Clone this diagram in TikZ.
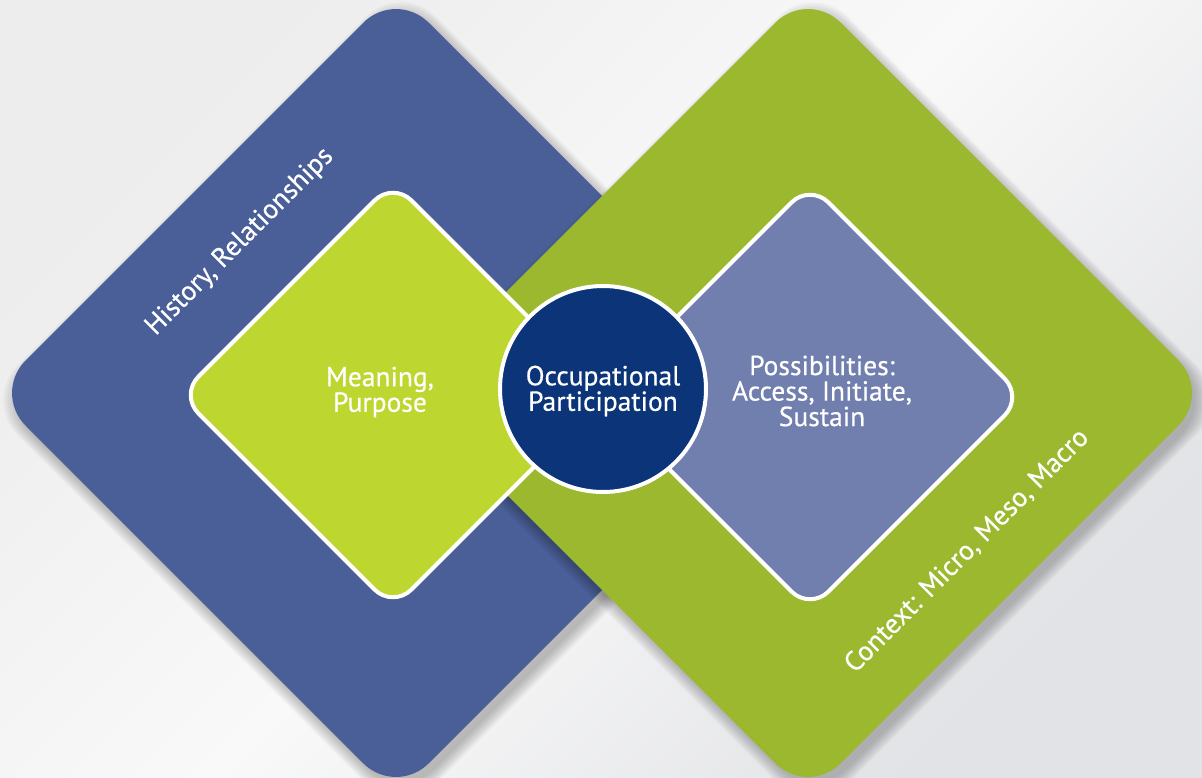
\documentclass[tikz,border=0pt]{standalone}
\usepackage{fontspec}
\setmainfont{PT Sans}
\newfontfamily\lblfont{PT Sans}[FakeBold=0.5]
\usetikzlibrary{shapes.geometric}
\definecolor{bgA}{HTML}{EDEDED}
\definecolor{bgB}{HTML}{F9F9F9}
\definecolor{bgC}{HTML}{E2E3E6}
\definecolor{bigblue}{HTML}{4A5E97}
\definecolor{biggreen}{HTML}{9BB82F}
\definecolor{lightgreen}{HTML}{BED630}
\definecolor{lilac}{HTML}{717FAE}
\definecolor{navy}{HTML}{0B3479}
\newcommand{\rdiam}[3]{({(#1)-(#3)/2},{(#2)-(#3)/2}) -- ({#1},{(#2)-(#3)}) -- ({(#1)+(#3)},{#2}) -- ({#1},{(#2)+(#3)}) -- ({(#1)-(#3)},{#2}) -- cycle}
\tikzset{
  bigdiam/.style={rounded corners=46pt},
  innerdiam/.style={rounded corners=26pt, draw=white, line width=4pt},
  shadowlayer/.style={fill=black, opacity=0.03, rounded corners=50pt},
  lbl/.style={text=white, align=center, font=\lblfont\fontsize{27.5}{25.5}\selectfont, inner sep=0pt},
  sidelbl/.style={text=white, font=\lblfont\fontsize{27.5}{28}\selectfont, inner sep=0pt, rotate=45}
}
\begin{document}
\begin{tikzpicture}[x=1pt,y=-1pt]
\useasboundingbox (0,0) rectangle (1202,778);
\shade[top color=bgA, bottom color=bgC, middle color=bgB, shading angle=45] (0,0) rectangle (1202,778);
% blue big diamond
\foreach \k in {0,...,7} \fill[shadowlayer] \rdiam{401}{400}{403+\k*2.2};
\fill[bigblue, bigdiam] \rdiam{396}{393}{403};
% green big diamond
\foreach \k in {0,...,7} \fill[shadowlayer] \rdiam{813}{400}{403+\k*2.2};
\fill[biggreen, bigdiam] \rdiam{808}{393}{403};
% inner diamonds
\filldraw[lightgreen, innerdiam] \rdiam{393}{395}{213};
\filldraw[lilac, innerdiam] \rdiam{810}{397}{213};
% circle
\node[circle, fill=navy, draw=white, line width=4pt, minimum size=206pt, inner sep=0pt] (circ) at (603,389) {};
% texts
\node[lbl] (mp) at (380,392) {Meaning,\\Purpose};
\node[lbl] (op) at (603,391) {Occupational\\Participation};
\node[lbl] (pos) at (822,391) {Possibilities:\\Access, Initiate,\\Sustain};
\node[sidelbl] (hr) at (240,242) {History, Relationships};
\node[sidelbl] (ctx) at (967,551) {Context: Micro, Meso, Macro};
\end{tikzpicture}
\end{document}
